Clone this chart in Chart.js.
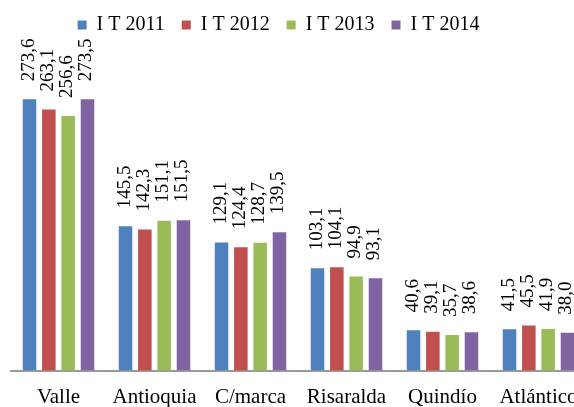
<!DOCTYPE html>
<html>
<head>
<meta charset="utf-8">
<script src="https://cdn.jsdelivr.net/npm/chart.js@4"></script>
<style>
html,body{margin:0;padding:0;overflow:hidden;background:#fff;width:574px;height:407px;}
#wrap{width:600px;height:407px;position:relative;}
</style>
</head>
<body>
<div id="wrap"><canvas id="c"></canvas></div>
<script>
const categories = ["Valle", "Antioquia", "C/marca", "Risaralda", "Quindío", "Atlántico"];
const seriesNames = ["I T 2011", "I T 2012", "I T 2013", "I T 2014"];
const it2011 = [273.6, 145.5, 129.1, 103.1, 40.6, 41.5];
const it2012 = [263.1, 142.3, 124.4, 104.1, 39.1, 45.5];
const it2013 = [256.6, 151.1, 128.7, 94.9, 35.7, 41.9];
const it2014 = [273.5, 151.5, 139.5, 93.1, 38.6, 38.0];
const colors = ["#4F81BD", "#C0504D", "#9BBB59", "#8064A2"];
const allSeries = [it2011, it2012, it2013, it2014];

const FONT = "'Liberation Serif', 'DejaVu Serif', serif";

const valueLabels = {
  id: 'valueLabels',
  afterDatasetsDraw(chart) {
    const ctx = chart.ctx;
    ctx.save();
    ctx.font = "19px " + FONT;
    ctx.fillStyle = "#000";
    ctx.textAlign = "left";
    ctx.textBaseline = "middle";
    chart.data.datasets.forEach((ds, di) => {
      const meta = chart.getDatasetMeta(di);
      meta.data.forEach((el, i) => {
        const v = ds.data[i];
        const txt = v.toFixed(1).replace('.', ',');
        ctx.save();
        ctx.translate(el.x - 1, el.y - 18);
        ctx.rotate(-Math.PI / 2);
        ctx.fillText(txt, 0, 0);
        ctx.restore();
      });
    });
    ctx.restore();
  }
};

const legendShift = {
  id: 'legendShift',
  afterLayout(chart) {
    const lg = chart.legend;
    if (lg) {
      lg.left -= 20; lg.right -= 20;
      lg.top -= 28; lg.bottom -= 28;
    }
  }
};

new Chart(document.getElementById('c'), {
  type: 'bar',
  data: {
    labels: categories,
    datasets: allSeries.map((d, i) => ({
      label: seriesNames[i],
      data: d,
      backgroundColor: colors[i],
      borderWidth: 0,
      categoryPercentage: 0.805,
      barPercentage: 0.7
    }))
  },
  options: {
    responsive: true,
    maintainAspectRatio: false,
    animation: false,
    layout: { padding: { left: 10.5, right: 13.5, top: 26, bottom: 0 } },
    plugins: {
      legend: {
        position: 'top',
        labels: {
          font: { family: FONT, size: 20 },
          color: '#000',
          boxWidth: 9,
          boxHeight: 9,
          padding: 17
        }
      },
      tooltip: { enabled: false }
    },
    scales: {
      x: {
        grid: { display: false, drawTicks: false },
        border: { display: true, color: '#9a9a9a', width: 2 },
        ticks: {
          font: { family: FONT, size: 21 },
          color: '#000',
          padding: 14,
          maxRotation: 0,
          autoSkip: false
        },
        afterFit(scale) { scale.height = 36.5; }
      },
      y: {
        display: false,
        min: 0,
        max: 300
      }
    }
  },
  plugins: [valueLabels, legendShift]
});
</script>
</body>
</html>
